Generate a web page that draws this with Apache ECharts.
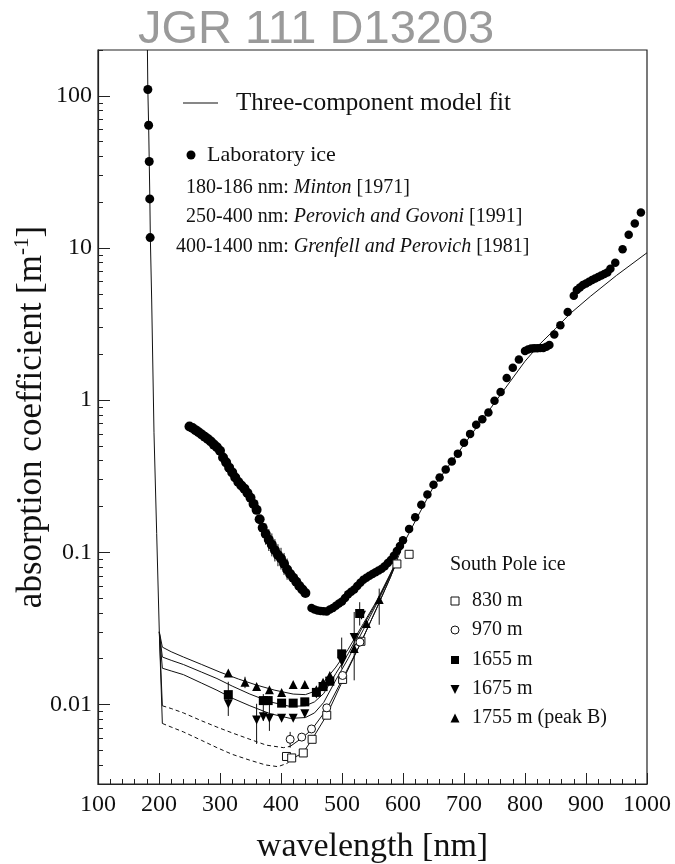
<!DOCTYPE html>
<html>
<head>
<meta charset="utf-8">
<script src="https://cdn.jsdelivr.net/npm/echarts@6/dist/echarts.min.js"></script>
<style>
  html, body { margin: 0; padding: 0; background: #fff; }
  #chart { width: 675px; height: 864px; }
</style>
</head>
<body>
<div id="chart"></div>
<script>
// laboratory ice, Minton 180-186 nm
var labIceUV = [[181.7, 110], [183, 64], [184, 37], [184.8, 21], [185.5, 11.7]];

// laboratory ice, Perovich and Govoni 250-440 nm (dense)
var labIcePG = [
  [250, 0.67], [255, 0.655], [260, 0.635], [265, 0.615], [270, 0.595], [275, 0.575],
  [280, 0.555], [285, 0.535], [290, 0.51], [295, 0.49], [300, 0.465], [305, 0.42],
  [310, 0.39], [315, 0.36], [320, 0.335], [325, 0.31], [330, 0.29], [335, 0.275],
  [340, 0.262], [345, 0.245], [350, 0.228], [355, 0.208], [360, 0.19], [365, 0.165],
  [370, 0.145], [375, 0.132], [380, 0.121], [385, 0.112], [390, 0.103], [395, 0.096],
  [400, 0.091], [405, 0.084], [410, 0.077], [415, 0.072], [420, 0.068], [425, 0.064],
  [430, 0.06], [435, 0.057], [440, 0.054]
];

// laboratory ice, Grenfell and Perovich 450-1000 nm
var labIceGP = [
  [450, 0.043], [455, 0.042], [460, 0.0415], [465, 0.0412], [470, 0.041], [475, 0.0408],
  [480, 0.042], [485, 0.043], [490, 0.0445], [495, 0.046], [500, 0.0475], [505, 0.05],
  [510, 0.053], [515, 0.055], [520, 0.057], [525, 0.06], [530, 0.063], [535, 0.066],
  [540, 0.068], [545, 0.07], [550, 0.072], [555, 0.074], [560, 0.076], [565, 0.078],
  [570, 0.081], [575, 0.085], [580, 0.089], [585, 0.095], [590, 0.102], [595, 0.11],
  [600, 0.12], [610, 0.142], [620, 0.17], [630, 0.205], [640, 0.24], [650, 0.278],
  [660, 0.31], [670, 0.35], [680, 0.395], [690, 0.445], [700, 0.525], [710, 0.6],
  [720, 0.69], [730, 0.75], [740, 0.83], [750, 0.99], [760, 1.13], [770, 1.4],
  [780, 1.63], [790, 1.85], [800, 2.1], [805, 2.15], [810, 2.18], [815, 2.19],
  [820, 2.19], [825, 2.2], [830, 2.2], [835, 2.24], [840, 2.3], [848, 2.7],
  [858, 3.1], [870, 3.8], [880, 4.85], [885, 5.3], [890, 5.5], [895, 5.7],
  [900, 5.85], [905, 6.0], [910, 6.15], [915, 6.3], [920, 6.45], [925, 6.6],
  [930, 6.75], [935, 6.9], [940, 7.3], [948, 8.0], [960, 9.8], [970, 12.2],
  [980, 14.5], [990, 17.1]
];

// South Pole ice measurements
var sp830 = [[409, 0.00455], [417.5, 0.00445], [436.5, 0.0048], [451, 0.0059], [475, 0.0085],
  [501, 0.0146], [531, 0.026], [590, 0.0838], [610, 0.097]];
var sp970 = [[415, 0.0059], [434, 0.0061], [450, 0.0069], [475, 0.0095], [501, 0.0155], [529.5, 0.0257]];
var sp1655 = [[313.6, 0.0116], [371, 0.0106], [379, 0.0106], [401, 0.0102], [420, 0.0102],
  [439, 0.0104], [458, 0.012], [469, 0.0131], [480, 0.0142], [499.5, 0.0215], [529, 0.0396]];
var sp1675 = [[313.6, 0.0101], [360, 0.0079], [371, 0.0083], [381, 0.0081], [401, 0.0081],
  [420, 0.0081], [439, 0.0087], [458, 0.0117], [469, 0.0131], [480, 0.0142], [500, 0.019],
  [520, 0.0275], [532, 0.0385]];
var sp1755 = [[313.6, 0.0161], [341, 0.014], [360, 0.0131], [381, 0.0125], [401, 0.012],
  [420, 0.0135], [439, 0.0135], [458, 0.0125], [469, 0.014], [480, 0.0155], [520, 0.0233],
  [540, 0.034], [561, 0.049]];

// error bars: [wavelength, low, high]
var errBars = [
  [313.6, 0.0084, 0.0141], [341, 0.0128, 0.0152], [360, 0.0055, 0.0101], [371, 0.0078, 0.0117],
  [381, 0.0067, 0.0113], [415, 0.0052, 0.0066], [499.5, 0.0172, 0.0275], [520, 0.0144, 0.0405],
  [529, 0.033, 0.047], [561, 0.0334, 0.0577],
  [375, 0.112, 0.155], [380, 0.102, 0.142], [385, 0.094, 0.133], [390, 0.087, 0.122],
  [395, 0.081, 0.113], [400, 0.077, 0.107], [405, 0.071, 0.099], [410, 0.066, 0.091]
];

// three-component model fit
var fitUV = [[181, 200], [181.7, 110], [183, 64], [184, 37], [185, 21], [185.8, 11.7],
  [188, 4.55], [191.8, 0.61], [196.2, 0.133], [200.5, 0.03]];
var fit1755 = [[200.5, 0.03], [205.5, 0.0238], [220, 0.0222], [240, 0.0205], [270, 0.0183],
  [300, 0.0163], [330, 0.0147], [360, 0.0134], [390, 0.0124], [420, 0.0117], [440, 0.0116],
  [455, 0.0122], [470, 0.014], [490, 0.0176], [510, 0.023], [535, 0.034], [557, 0.048],
  [579, 0.072], [590, 0.0885]];
var fit1655 = [[200.5, 0.03], [205.5, 0.0205], [220, 0.0195], [240, 0.0183], [270, 0.0163],
  [295, 0.0148], [320, 0.0132], [349, 0.0117], [382, 0.0104], [415, 0.0097], [440, 0.0098],
  [455, 0.0104], [470, 0.0118], [490, 0.016], [510, 0.0215], [535, 0.033], [557, 0.047],
  [579, 0.071], [590, 0.0885]];
var fit1675 = [[200.5, 0.03], [205.5, 0.0173], [220, 0.0166], [240, 0.0157], [270, 0.0138],
  [295, 0.0124], [320, 0.011], [349, 0.0098], [382, 0.0087], [415, 0.0081], [440, 0.0082],
  [455, 0.0088], [470, 0.0103], [490, 0.0145], [510, 0.02], [535, 0.031], [557, 0.046],
  [579, 0.07], [590, 0.088]];
var fit970Drop = [[200.5, 0.03], [205.5, 0.0098]];
var fit970Dash = [[205.5, 0.0098], [220, 0.0094], [240, 0.0088], [270, 0.0078], [295, 0.0071],
  [320, 0.0065], [349, 0.0059], [376, 0.0054], [404, 0.0052], [415, 0.0053]];
var fit970 = [[415, 0.0053], [434, 0.006], [450, 0.0068], [475, 0.0093], [500, 0.0145],
  [530, 0.025], [557, 0.043], [579, 0.068], [590, 0.088]];
var fit830Drop = [[200.5, 0.03], [205.5, 0.0075]];
var fit830Dash = [[205.5, 0.0075], [220, 0.0071], [240, 0.0066], [270, 0.0058], [295, 0.0052],
  [320, 0.0047], [349, 0.0043], [375, 0.004], [395, 0.0039], [410, 0.0041], [418, 0.0044]];
var fit830 = [[418, 0.0044], [436, 0.0048], [451, 0.0059], [475, 0.0085], [501, 0.0143],
  [530, 0.025], [557, 0.043], [579, 0.068], [590, 0.087]];
var fitMain = [[590, 0.0885], [600, 0.112], [620, 0.16], [650, 0.27], [700, 0.51], [745, 0.9],
  [800, 1.8], [825, 2.35], [850, 2.95], [874, 3.7], [907, 4.8], [950, 6.6], [1000, 9.3]];

// axis ticks
var yMajor = [0.01, 0.1, 1, 10, 100];
var yMinor = [0.003, 0.004, 0.005, 0.006, 0.007, 0.008, 0.009,
  0.02, 0.03, 0.04, 0.05, 0.06, 0.07, 0.08, 0.09,
  0.2, 0.3, 0.4, 0.5, 0.6, 0.7, 0.8, 0.9,
  2, 3, 4, 5, 6, 7, 8, 9,
  20, 30, 40, 50, 60, 70, 80, 90, 200];

var SERIF = 'Liberation Serif';

function fitLine(data, dashed) {
  return {
    type: 'line', data: data, showSymbol: false, symbol: 'none', silent: true,
    lineStyle: { color: '#111', width: 1, type: dashed ? [4, 3] : 'solid' },
    z: 2
  };
}

function points(data, symbol, open, size, rotate) {
  return {
    type: 'scatter', data: data, symbol: symbol, symbolSize: size, symbolRotate: rotate || 0,
    itemStyle: open
      ? { color: '#fff', borderColor: '#111', borderWidth: 1, opacity: 1 }
      : { color: '#000', opacity: 1 },
    z: 4
  };
}

var chart = echarts.init(document.getElementById('chart'), null, { renderer: 'canvas' });

var option = {
  backgroundColor: '#fff',
  animation: false,
  title: {
    text: 'JGR 111 D13203',
    left: 133, top: 2,
    textStyle: { fontFamily: 'Liberation Sans', fontSize: 47, fontWeight: 'normal', color: '#9a9a9a' }
  },
  grid: {
    left: 98, right: 28, top: 50, bottom: 80,
    containLabel: false, outerBoundsMode: 'none',
    show: true, borderColor: '#222', borderWidth: 1.2, backgroundColor: 'transparent'
  },
  xAxis: {
    type: 'value', min: 100, max: 1000, interval: 100,
    name: 'wavelength [nm]', nameLocation: 'middle', nameGap: 46, nameMoveOverlap: false,
    nameTextStyle: { fontFamily: SERIF, fontSize: 34, color: '#111' },
    axisLine: { lineStyle: { color: '#222', width: 1.2 } },
    axisTick: { inside: true, length: 11, lineStyle: { color: '#222' } },
    minorTick: { show: true, splitNumber: 5, length: 5, lineStyle: { color: '#222' } },
    axisLabel: {
      fontFamily: SERIF, fontSize: 24, color: '#111', margin: 9,
      formatter: function (v) { return String(v); }
    },
    splitLine: { show: false }
  },
  yAxis: [
    {
      type: 'log', logBase: 10, min: 0.003, max: 200,
      name: 'absorption coefficient [m{sup|-1}]', nameLocation: 'middle', nameGap: 46, nameMoveOverlap: false,
      nameTextStyle: {
        fontFamily: SERIF, fontSize: 35, color: '#111',
        rich: { sup: { fontFamily: SERIF, fontSize: 21, color: '#111', verticalAlign: 'top', lineHeight: 40 } }
      },
      axisLine: { lineStyle: { color: '#222', width: 1.2 } },
      axisTick: { inside: true, length: 12, customValues: yMajor, lineStyle: { color: '#222' } },
      axisLabel: { fontFamily: SERIF, fontSize: 24, color: '#111', margin: 6, customValues: yMajor },
      splitLine: { show: false }
    },
    {
      type: 'log', logBase: 10, min: 0.003, max: 200, position: 'left',
      axisLine: { show: false },
      axisTick: { inside: true, length: 5, customValues: yMinor, lineStyle: { color: '#222' } },
      axisLabel: { show: false },
      splitLine: { show: false }
    }
  ],
  series: [
    fitLine(fitUV), fitLine(fit1755), fitLine(fit1655), fitLine(fit1675),
    fitLine(fit970Drop), fitLine(fit970Dash, true), fitLine(fit970),
    fitLine(fit830Drop), fitLine(fit830Dash, true), fitLine(fit830),
    fitLine(fitMain),
    {
      type: 'custom', data: errBars, z: 3, silent: true,
      encode: { x: 0, y: [1, 2] },
      renderItem: function (params, api) {
        var lo = api.coord([api.value(0), api.value(1)]);
        var hi = api.coord([api.value(0), api.value(2)]);
        return {
          type: 'line',
          shape: { x1: lo[0], y1: lo[1], x2: hi[0], y2: hi[1] },
          style: { stroke: '#111', lineWidth: 1 }
        };
      }
    },
    points(labIceUV, 'circle', false, 9),
    points(labIcePG, 'circle', false, 10),
    points(labIceGP, 'circle', false, 8.5),
    points(sp830, 'rect', true, 8),
    points(sp970, 'circle', true, 8),
    points(sp1655, 'rect', false, 9),
    points(sp1675, 'triangle', false, 9, 180),
    points(sp1755, 'triangle', false, 9)
  ],
  graphic: [
    { type: 'line', shape: { x1: 183, y1: 103, x2: 218, y2: 103 }, style: { stroke: '#111', lineWidth: 1.2 } },
    { type: 'text', x: 236, y: 103, style: { text: 'Three-component model fit', font: '25px "Liberation Serif"', fill: '#111', verticalAlign: 'middle' } },
    { type: 'circle', shape: { cx: 191, cy: 155, r: 4.5 }, style: { fill: '#000' } },
    { type: 'text', x: 207, y: 155, style: { text: 'Laboratory ice', font: '22px "Liberation Serif"', fill: '#111', verticalAlign: 'middle' } },
    {
      type: 'text', x: 186, y: 188,
      style: {
        text: '180-186 nm: {i|Minton} [1971]', font: '20px "Liberation Serif"', fill: '#111', verticalAlign: 'middle',
        rich: { i: { fontStyle: 'italic', fontFamily: SERIF, fontSize: 20 } }
      }
    },
    {
      type: 'text', x: 186, y: 217,
      style: {
        text: '250-400 nm: {i|Perovich and Govoni} [1991]', font: '20px "Liberation Serif"', fill: '#111', verticalAlign: 'middle',
        rich: { i: { fontStyle: 'italic', fontFamily: SERIF, fontSize: 20 } }
      }
    },
    {
      type: 'text', x: 176, y: 247,
      style: {
        text: '400-1400 nm: {i|Grenfell and Perovich} [1981]', font: '20px "Liberation Serif"', fill: '#111', verticalAlign: 'middle',
        rich: { i: { fontStyle: 'italic', fontFamily: SERIF, fontSize: 20 } }
      }
    },
    { type: 'text', x: 450, y: 565, style: { text: 'South Pole ice', font: '20px "Liberation Serif"', fill: '#111', verticalAlign: 'middle' } },
    { type: 'rect', shape: { x: 451, y: 597, width: 8, height: 8 }, style: { fill: '#fff', stroke: '#111', lineWidth: 1 } },
    { type: 'text', x: 472, y: 601, style: { text: '830 m', font: '20px "Liberation Serif"', fill: '#111', verticalAlign: 'middle' } },
    { type: 'circle', shape: { cx: 455, cy: 630, r: 4 }, style: { fill: '#fff', stroke: '#111', lineWidth: 1 } },
    { type: 'text', x: 472, y: 630, style: { text: '970 m', font: '20px "Liberation Serif"', fill: '#111', verticalAlign: 'middle' } },
    { type: 'rect', shape: { x: 451, y: 656, width: 8, height: 8 }, style: { fill: '#000' } },
    { type: 'text', x: 472, y: 660, style: { text: '1655 m', font: '20px "Liberation Serif"', fill: '#111', verticalAlign: 'middle' } },
    { type: 'polygon', shape: { points: [[450.5, 685], [459.5, 685], [455, 694]] }, style: { fill: '#000' } },
    { type: 'text', x: 472, y: 689, style: { text: '1675 m', font: '20px "Liberation Serif"', fill: '#111', verticalAlign: 'middle' } },
    { type: 'polygon', shape: { points: [[450.5, 722.5], [459.5, 722.5], [455, 713.5]] }, style: { fill: '#000' } },
    { type: 'text', x: 472, y: 718, style: { text: '1755 m (peak B)', font: '20px "Liberation Serif"', fill: '#111', verticalAlign: 'middle' } }
  ]
};

chart.setOption(option);
</script>
</body>
</html>
